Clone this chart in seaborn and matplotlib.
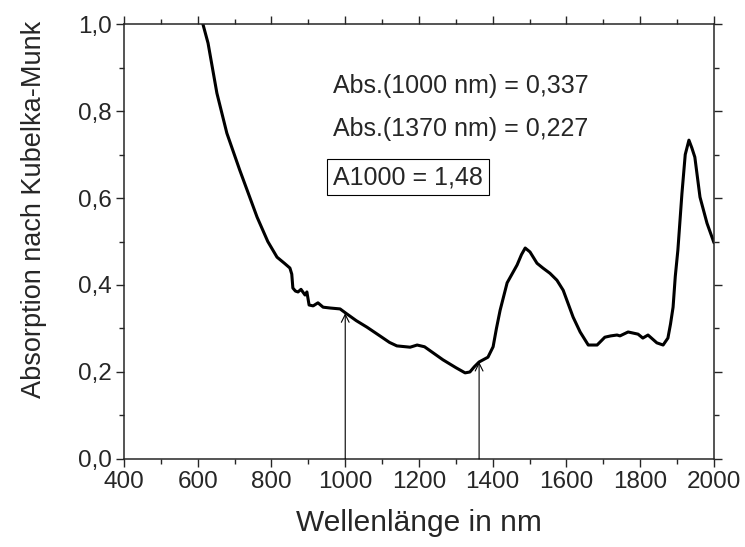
import numpy as np
import pandas as pd
import matplotlib
matplotlib.use("Agg")
import matplotlib.pyplot as plt
from matplotlib.ticker import MultipleLocator, FuncFormatter
import seaborn as sns

# spectrum
wavelength = [600, 614, 628, 652, 679, 714, 761, 790, 815, 835, 850, 855, 858, 865,
              872, 880, 885, 891, 896, 902, 913, 926, 940, 960, 986, 1002, 1030,
              1059, 1094, 1120, 1140, 1176, 1195, 1215, 1240, 1265, 1300, 1325,
              1338, 1350, 1363, 1387, 1401, 1410, 1420, 1439, 1466, 1478, 1488,
              1501, 1520, 1536, 1555, 1574, 1591, 1618, 1637, 1659, 1683, 1704,
              1720, 1737, 1745, 1767, 1794, 1807, 1821, 1845, 1862, 1875, 1882,
              1889, 1895, 1902, 1913, 1922, 1932, 1940, 1948, 1962, 1981, 2000]
absorption = [1.06, 1.0, 0.956, 0.841, 0.749, 0.664, 0.556, 0.50, 0.464, 0.450,
              0.439, 0.425, 0.393, 0.386, 0.384, 0.390, 0.384, 0.377, 0.384, 0.354,
              0.352, 0.359, 0.349, 0.347, 0.345, 0.335, 0.318, 0.303, 0.283, 0.268,
              0.260, 0.257, 0.262, 0.258, 0.243, 0.228, 0.210, 0.198, 0.200, 0.212,
              0.223, 0.234, 0.258, 0.30, 0.342, 0.405, 0.446, 0.470, 0.485, 0.476,
              0.450, 0.439, 0.427, 0.411, 0.388, 0.326, 0.292, 0.262, 0.262, 0.280,
              0.283, 0.285, 0.283, 0.292, 0.287, 0.278, 0.285, 0.267, 0.262, 0.278,
              0.31, 0.349, 0.42, 0.48, 0.61, 0.70, 0.733, 0.715, 0.694, 0.602,
              0.542, 0.497]

arrow_x = [1000, 1363]
arrow_y = [0.335, 0.223]
notes = ["Abs.(1000 nm) = 0,337", "Abs.(1370 nm) = 0,227"]
ratio_note = "A1000 = 1,48"

sns.set_style("ticks")
plt.rcParams['font.family'] = ['Liberation Sans', 'DejaVu Sans']

df = pd.DataFrame({'wl': wavelength, 'abs': absorption})

fig = plt.figure(figsize=(7.45, 5.47), dpi=100)
ax = fig.add_axes([0.1664, 0.1609, 0.792, 0.7952])

sns.lineplot(data=df, x='wl', y='abs', color='black', linewidth=2.2, ax=ax)

for xa, ya in zip(arrow_x, arrow_y):
    ax.annotate("", xy=(xa, ya), xytext=(xa, 0),
                arrowprops=dict(arrowstyle='->', color='black', lw=0.8,
                                shrinkA=0, shrinkB=0, mutation_scale=14))

ax.text(967, 0.857, notes[0], fontsize=18, va='center', ha='left')
ax.text(967, 0.759, notes[1], fontsize=18, va='center', ha='left')
ax.text(967, 0.648, ratio_note, fontsize=18, va='center', ha='left',
        bbox=dict(boxstyle='square,pad=0.25', facecolor='white', edgecolor='black', lw=0.8))

ax.set_xlim(400, 2000)
ax.set_ylim(0, 1.0)
ax.xaxis.set_major_locator(MultipleLocator(200))
ax.xaxis.set_minor_locator(MultipleLocator(100))
ax.yaxis.set_major_locator(MultipleLocator(0.2))
ax.yaxis.set_minor_locator(MultipleLocator(0.1))
ax.yaxis.set_major_formatter(FuncFormatter(lambda v, p: f"{v:.1f}".replace('.', ',')))

ax.tick_params(which='major', direction='out', length=6, width=1, labelsize=17.5,
               top=True, right=True, pad=3)
ax.tick_params(which='minor', direction='out', length=3.5, width=1, top=True, right=True)
for s in ax.spines.values():
    s.set_linewidth(1.1)
    s.set_visible(True)

ax.set_xlabel("Wellenlänge in nm", fontsize=21.5, labelpad=11)
ax.set_ylabel("Absorption nach Kubelka-Munk", fontsize=19.5, va='center')
ax.yaxis.set_label_coords(-0.153, 0.575)

fig.savefig("out.png", dpi=100)
